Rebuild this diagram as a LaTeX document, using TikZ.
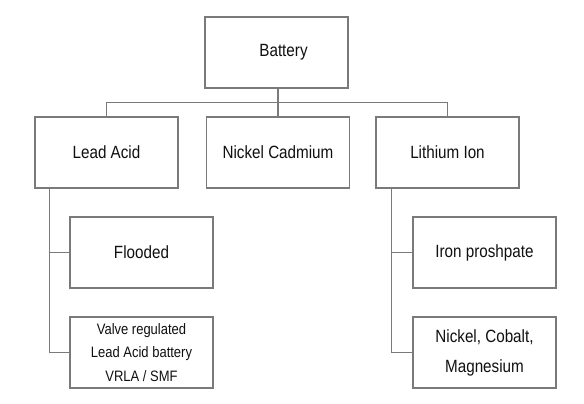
\documentclass[tikz,border=0pt]{standalone}
\usepackage{fontspec}
\setmainfont[FakeStretch=0.86]{Liberation Sans}
\definecolor{linegray}{HTML}{7A7A7A}
\definecolor{textdark}{HTML}{101010}
\begin{document}
\begin{tikzpicture}[x=1pt,y=-1pt,
  box/.style={draw=linegray, line width=1.5pt, rectangle, inner sep=0pt,
    minimum width=143pt, minimum height=71pt, align=center, text=textdark,
    font=\fontsize{17.7}{21}\selectfont},
  smallbox/.style={box, font=\fontsize{15.1}{23.5}\selectfont},
  twoline/.style={box, font=\fontsize{17.7}{30}\selectfont},
  conn/.style={draw=linegray, line width=1.4pt}]
\useasboundingbox (0,0) rectangle (584,404);
\fill[white] (0,0) rectangle (584,404);
\node[box] (bat) at (276.5,52.5) {\hspace*{14pt}Battery};
\node[box] (lead) at (106.5,152.5) {Lead Acid};
\node[box] (nicd) at (278,152.5) {Nickel Cadmium};
\node[box] (li) at (447.5,152.5) {Lithium Ion};
\node[box] (flood) at (141.5,252.5) {Flooded};
\node[smallbox] (valve) at (141.5,352.5) {Valve regulated\\Lead Acid battery\\VRLA / SMF};
\node[box] (iron) at (484.5,252.5) {Iron proshpate};
\node[twoline] (nico) at (484.5,352.5) {Nickel, Cobalt,\\Magnesium};
% bus
\draw[conn] (bat.south -| nicd.north) -- (nicd.north);
\draw[conn] (lead.north) -- ++(0,-13.5) -| (li.north);
% lead acid branches
\coordinate (lt) at ([xshift=15pt]lead.south west);
\draw[conn] (lt) |- (valve.west);
\draw[conn] (flood.west) -- (flood.west -| lt);
% lithium branches
\coordinate (rt) at ([xshift=16pt]li.south west);
\draw[conn] (rt) |- (nico.west);
\draw[conn] (iron.west) -- (iron.west -| rt);
\end{tikzpicture}
\end{document}
